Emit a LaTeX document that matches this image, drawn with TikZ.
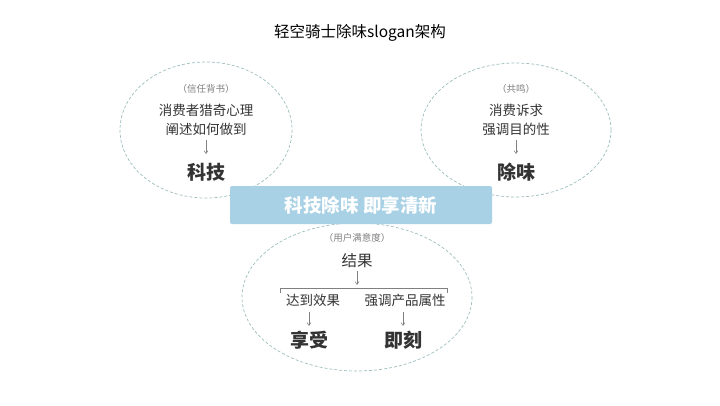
\documentclass[tikz,border=0pt]{standalone}
\usepackage{fontspec}
\setmainfont{Noto Sans CJK SC}
\usetikzlibrary{arrows.meta}
\definecolor{txt}{HTML}{333333}
\definecolor{ell}{HTML}{9DBDBD}
\definecolor{bluebox}{HTML}{A9D1E5}
\begin{document}
\begin{tikzpicture}[x=1pt,y=-1pt,
  oval/.style={draw=ell,dashed,line width=0.7pt,dash pattern=on 3pt off 2pt},
  small/.style={text=gray,font=\fontsize{9.5}{10}\selectfont},
  mid/.style={text=txt,font=\fontsize{13.5}{14}\selectfont},
  big/.style={text=txt,font=\fontsize{19}{22}\selectfont\bfseries},
  arr/.style={draw=gray,-{Straight Barb[length=3pt,width=4pt]},line width=0.5pt}]
\useasboundingbox (0,0) rectangle (720,405);
\node (title) at (360,33) [text=black,font=\fontsize{15.5}{17}\selectfont] {轻空骑士除味slogan架构};
\draw[oval] (206,130) ellipse [x radius=86,y radius=68];
\draw[oval] (516,130) ellipse [x radius=95,y radius=67];
\draw[oval] (357,297) ellipse [x radius=115,y radius=74];
\node (lt) at (206,89) [small] {（信任背书）};
\node (l1) at (206,110) [mid] {消费者猎奇心理};
\node (l2) at (206,129) [mid] {阐述如何做到};
\node (l3) at (206,172) [big] {科技};
\coordinate (la) at (206,140); \coordinate (lb) at (206,154);
\draw[arr] (la) -- (lb);
\node (rt) at (516,89) [small] {（共鸣）};
\node (r1) at (516,110) [mid] {消费诉求};
\node (r2) at (516,129) [mid] {强调目的性};
\node (r3) at (516,172) [big] {除味};
\coordinate (ra) at (516,140); \coordinate (rb) at (516,154);
\draw[arr] (ra) -- (rb);
\node (box) at (361,205) [fill=bluebox,minimum width=262pt,minimum height=38pt,rounded corners=2pt,text=white,font=\fontsize{18.5}{20}\selectfont\bfseries] {科技除味\ 即享清新};
\node (bt) at (357,238) [small] {（用户满意度）};
\node (b1) at (357,261) [mid,font=\fontsize{15.5}{17}\selectfont] {结果};
\coordinate (ba) at (357,271); \coordinate (bb) at (357,285);
\draw[arr] (ba) -- (bb);
\draw[draw=gray,line width=0.5pt] (280,293) -- (280,288) -- (447,288) -- (447,293);
\node (b2) at (313,300) [mid] {达到效果};
\node (b3) at (405,300) [mid] {强调产品属性};
\coordinate (c1) at (309,312); \coordinate (c2) at (309,326);
\coordinate (d1) at (403,312); \coordinate (d2) at (403,326);
\draw[arr] (c1) -- (c2);
\draw[arr] (d1) -- (d2);
\node (b4) at (309,340) [big] {享受};
\node (b5) at (403,340) [big] {即刻};
\end{tikzpicture}
\end{document}
